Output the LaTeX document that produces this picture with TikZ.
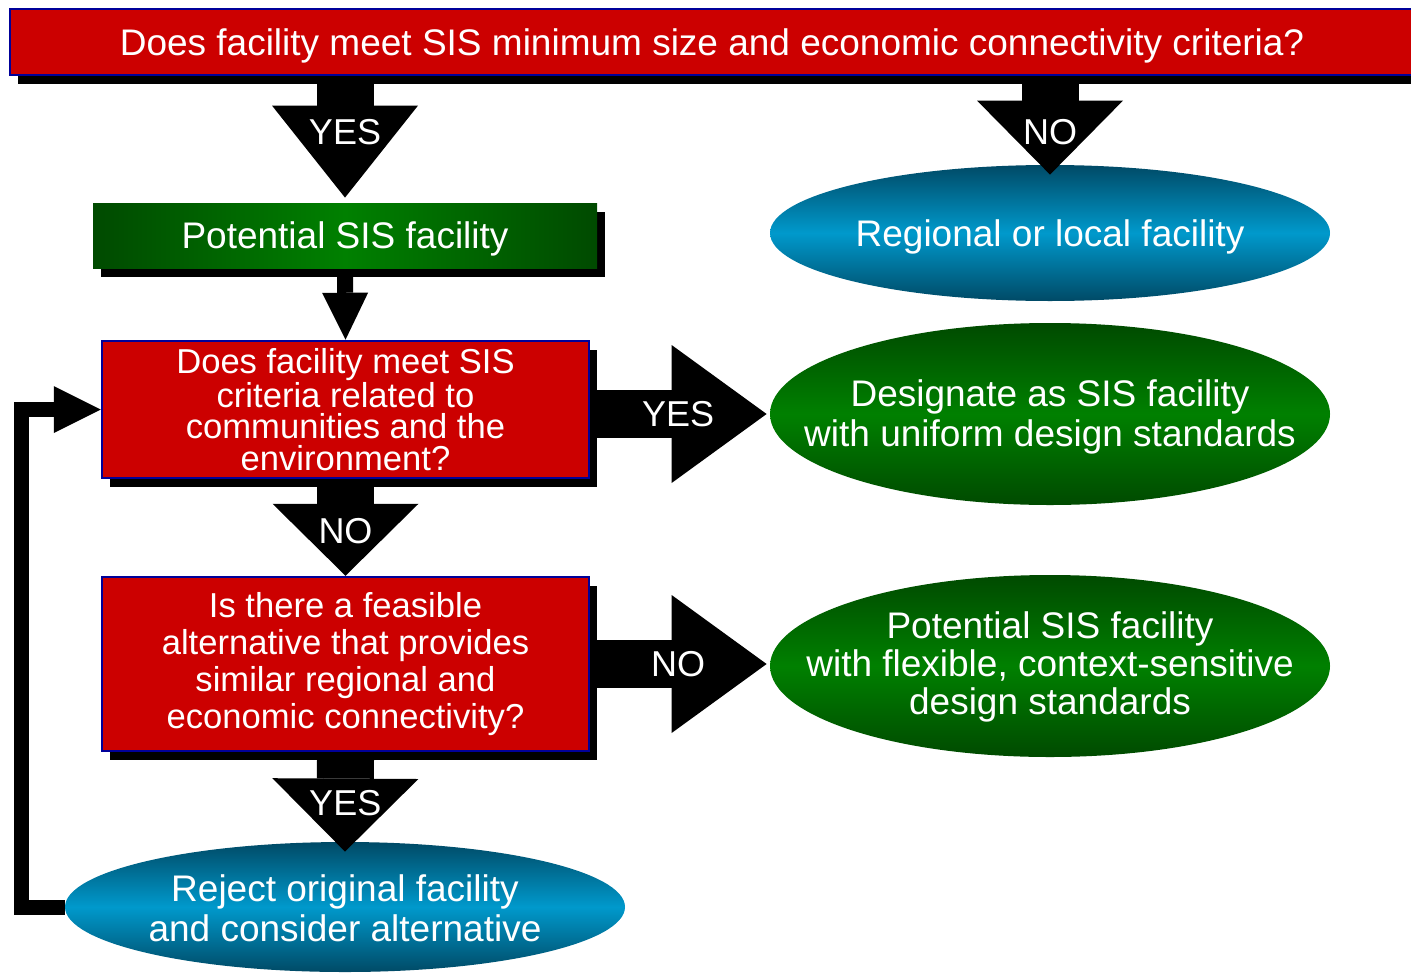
\documentclass[tikz,border=0pt]{standalone}
\usepackage{fontspec}
\setmainfont{Liberation Sans}
\usetikzlibrary{shapes.geometric,arrows.meta,shadows,calc}
\definecolor{qred}{HTML}{CC0000}
\definecolor{qblue}{HTML}{000099}
\definecolor{gdark}{HTML}{004A00}
\definecolor{glight}{HTML}{008000}
\definecolor{bdark}{HTML}{004A66}
\definecolor{blight}{HTML}{0099CC}

\tikzset{
  boxshadow/.style={drop shadow={shadow xshift=4pt, shadow yshift=-4.5pt, fill=black, opacity=1}},
  question/.style={rectangle, fill=qred, draw=qblue, line width=1.25pt, text=white,
    align=center, inner sep=0pt, boxshadow},
  greenbox/.style={rectangle, left color=gdark, right color=gdark, middle color=glight,
    text=white, inner sep=0pt, boxshadow},
  greenoval/.style={ellipse, top color=gdark, bottom color=gdark, middle color=glight, inner sep=0pt},
  blueoval/.style={ellipse, top color=bdark, bottom color=bdark, middle color=blight, inner sep=0pt},
  ovaltext/.style={text=white, align=center, font=\fontsize{18.5}{20}\selectfont},
  answer/.style={text=white, inner sep=0pt, font=\fontsize{18}{20}\selectfont},
  bigarrow/.style={line width=28.5pt, -{Triangle[length=#1, width=73pt, line width=0pt]}},
  bigarrow/.default=46pt,
  sidearrow/.style={line width=24pt, -{Triangle[length=47.5pt, width=69pt, line width=0pt]}},
  smallarrow/.style={line width=8pt, -{Triangle[length=23.5pt, width=23pt, line width=0pt]}},
  looparrow/.style={line width=7.5pt, line join=miter, -{Triangle[length=23.5pt, width=23.5pt, line width=0pt]}},
}

\begin{document}
\begin{tikzpicture}[x=0.5pt, y=-0.5pt]
\useasboundingbox (0,0) rectangle (1411,974);

% questions and outcomes
\node[question, minimum width=702pt, minimum height=33pt, text depth=0pt,
  font=\fontsize{18.5}{20}\selectfont]
  (top) at (712,42) {Does facility meet SIS minimum size and economic connectivity criteria?};
\node[greenbox, minimum width=252pt, minimum height=32.5pt, text depth=0pt,
  font=\fontsize{18.5}{20}\selectfont]
  (pot) at (345,235.5) {Potential SIS facility};
\node[question, minimum width=243.5pt, minimum height=68.5pt, font=\fontsize{17.3}{15.6}\selectfont]
  (comm) at (345.5,409.5) {Does facility meet SIS\\criteria related to\\communities and the\\environment?};
\node[question, minimum width=243.5pt, minimum height=87pt, font=\fontsize{17.3}{18.6}\selectfont]
  (alt) at (345.5,664) {Is there a feasible\\alternative that provides\\similar regional and\\economic connectivity?};

\node[blueoval, minimum width=280pt, minimum height=68pt] (regional) at (1050,233) {};
\node[ovaltext, text depth=0pt] (regionaltext) at (regional.center) {Regional or local facility};
\node[greenoval, minimum width=280pt, minimum height=91pt] (desig) at (1050,414) {};
\node[ovaltext] (desigtext) at ($(desig.center)+(0,3)$) {Designate as SIS facility\\with uniform design standards};
\node[greenoval, minimum width=280pt, minimum height=91pt] (flex) at (1050,666) {};
\node[ovaltext, font=\fontsize{18.5}{19}\selectfont] (flextext) at ($(flex.center)+(0,1)$)
  {Potential SIS facility\\with flexible, context-sensitive\\design standards};
\node[blueoval, minimum width=280pt, minimum height=65pt] (reject) at (345,907) {};
\node[ovaltext] (rejecttext) at ($(reject.center)+(0,1)$) {Reject original facility\\and consider alternative};

% block arrows
\draw[bigarrow] ($(top.south -| pot.north)+(0,7)$) -- ($(pot.north)+(0,-5)$)
  node[answer, pos=0.43] {YES};
\draw[bigarrow=37pt] ($(top.south -| regional.north)+(0,7)$) -- ($(regional.north)+(0,10)$)
  node[answer, pos=0.53] {NO};
\draw[smallarrow] ($(pot.south)+(0,6)$) -- (comm.north);
\draw[bigarrow=36pt] ($(comm.south)+(0,7)$) -- (alt.north)
  node[answer, midway] {NO};
\draw[bigarrow=36.5pt] ($(alt.south)+(0,7)$) -- ($(reject.north)+(0,10)$)
  node[answer, pos=0.48] {YES};
\draw[sidearrow] ($(comm.east |- desig.west)+(6,0)$) -- ($(desig.west)+(-3,0)$)
  node[answer, pos=0.48] {YES};
\draw[sidearrow] ($(alt.east)+(6,0)$) -- ($(alt.east -| flex.west)+(-3,0)$)
  node[answer, pos=0.48] {NO};
\draw[looparrow] (reject.west) -| ($(comm.west)+(-79,0)$) -- (comm.west);
\end{tikzpicture}
\end{document}
